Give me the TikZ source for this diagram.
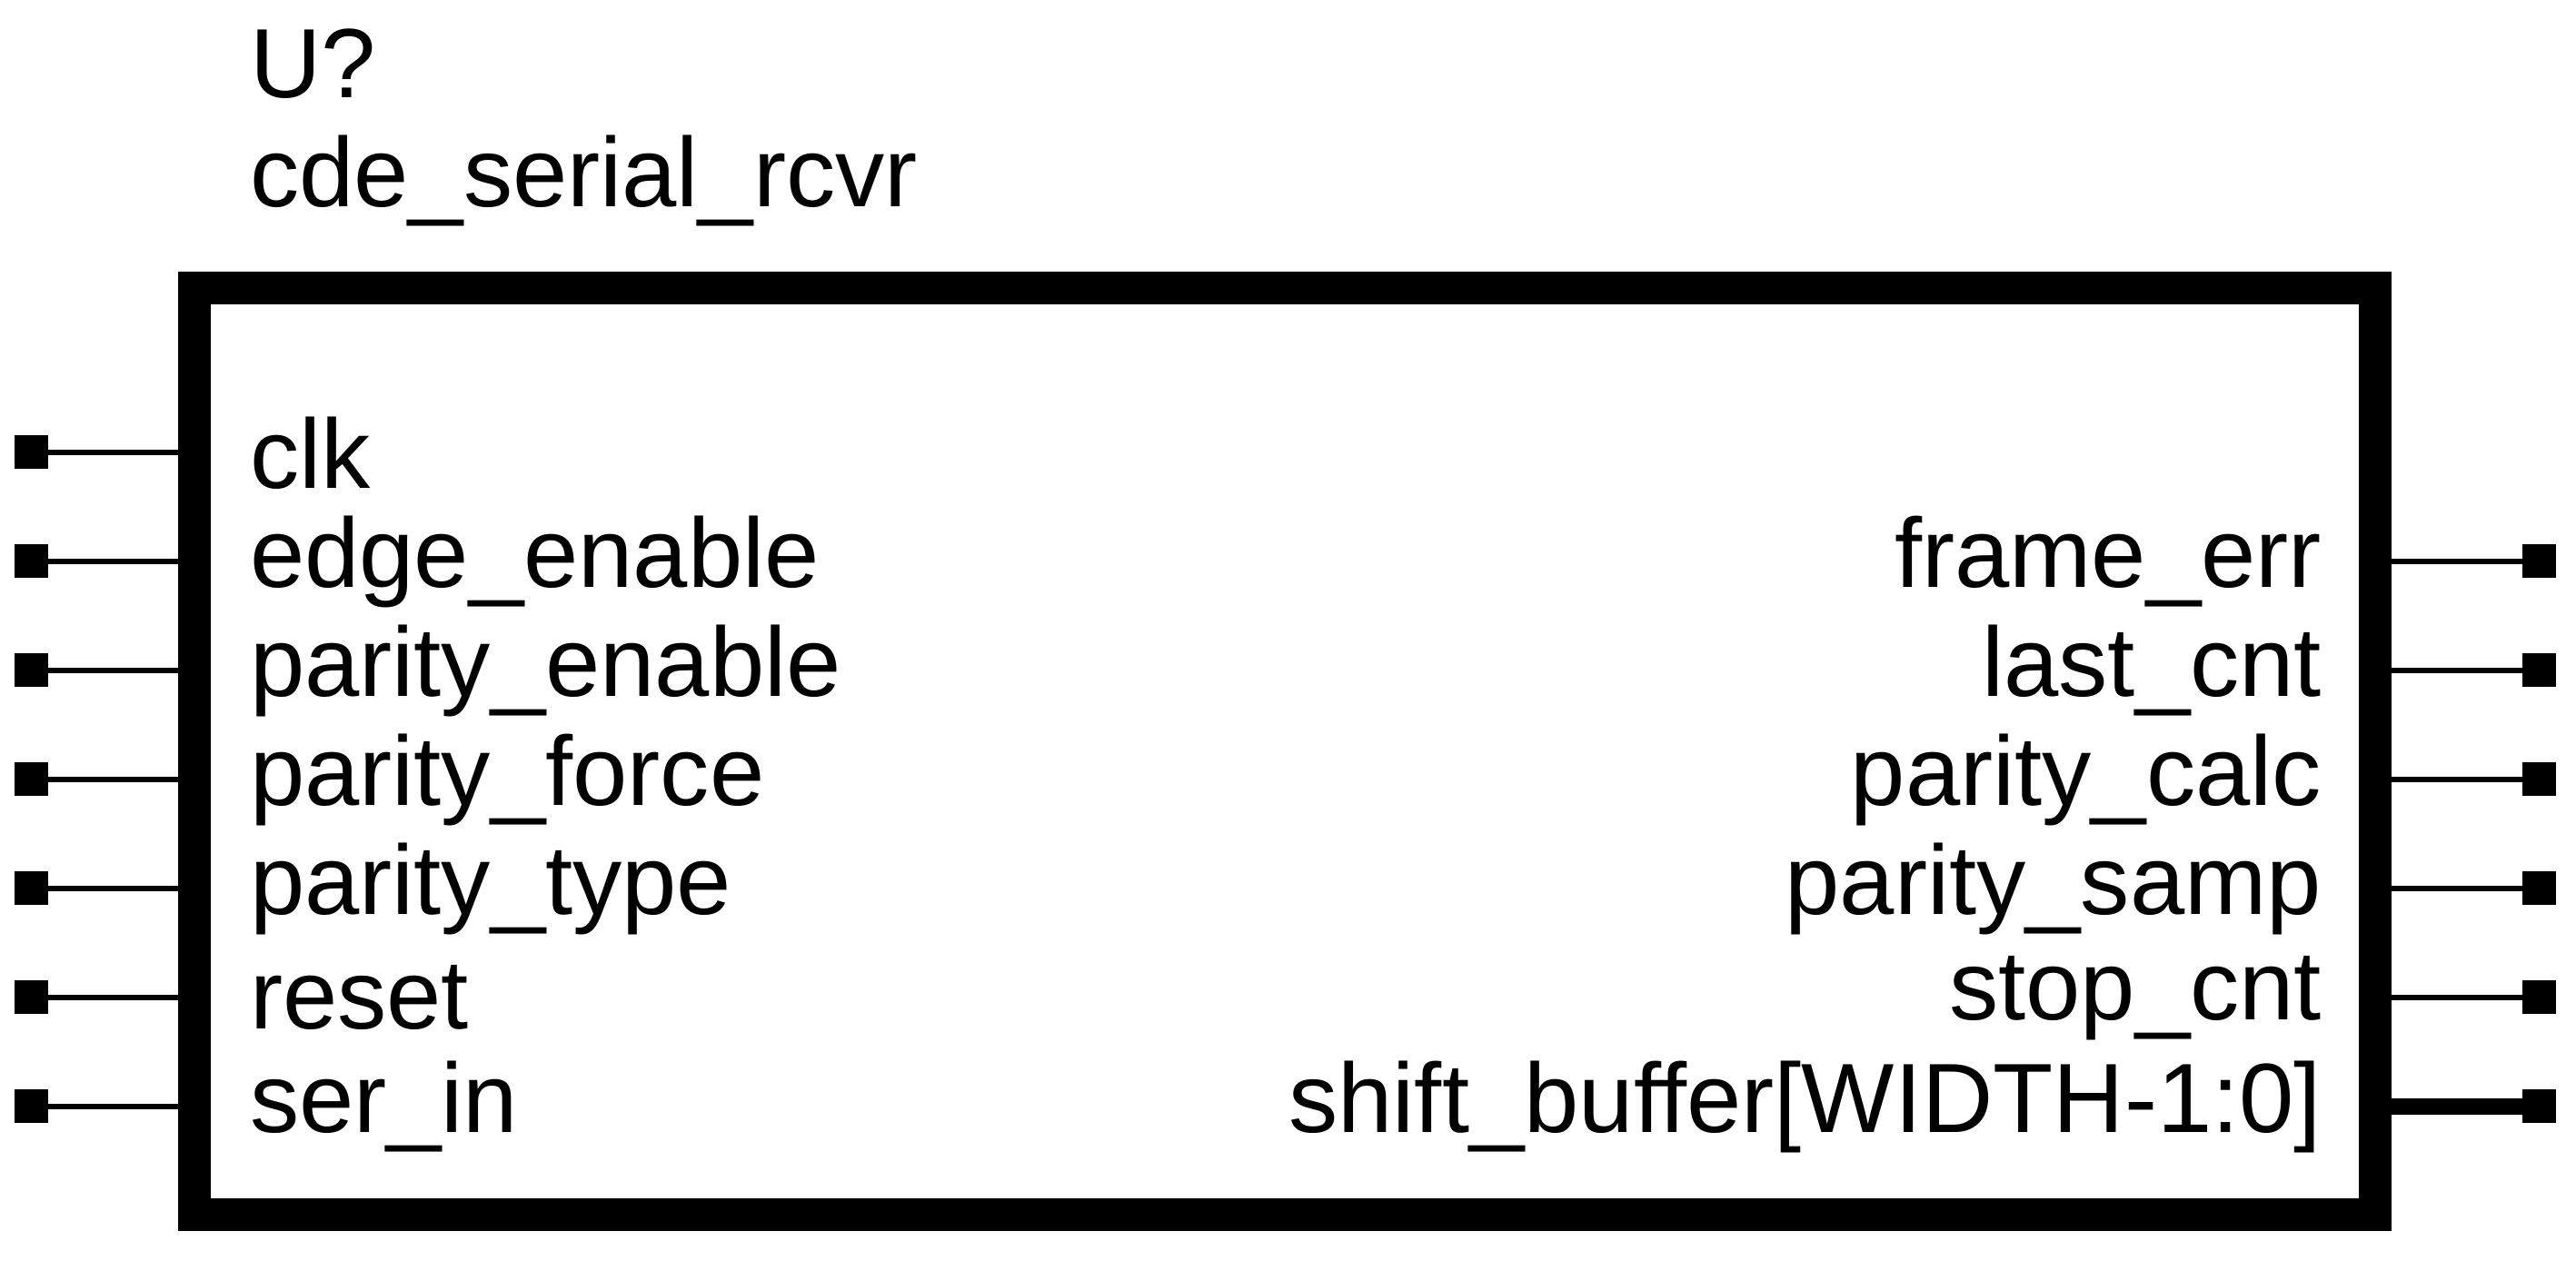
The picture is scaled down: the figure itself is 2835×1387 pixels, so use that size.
\documentclass[tikz,border=0pt]{standalone}
\usepackage{fontspec}
\setmainfont{Liberation Sans}
\tikzset{
  x=1pt,y=-1pt,
  lbl/.style={font=\fontsize{108.4}{108.4}\selectfont,inner sep=0pt,outer sep=0pt,text=black},
  lleft/.style={lbl,anchor=base west},
  lright/.style={lbl,anchor=base east},
  pin/.style={fill=black,draw=none,minimum size=37pt,inner sep=0pt,outer sep=0pt},
  wire/.style={line width=6pt,draw=black},
  bus/.style={line width=18pt,draw=black},
  block/.style={draw=black,line width=36pt,fill=white,minimum width=2400pt,minimum height=1020pt,inner sep=0pt,outer sep=0pt}
}
\begin{document}
\begin{tikzpicture}
\useasboundingbox (0,0) rectangle (2835,1387);
\fill[white] (0,0) rectangle (2835,1387);
\node[block] (box) at (1414,827) {};
\node[lleft] (ref) at (275,107.5) {U?};
\node[lleft] (name) at (275,227.5) {cde\_serial\_rcvr};
\foreach \n/\y/\b/\t in {1/497.5/537/clk,2/617.5/646/edge\_enable,3/737.5/766/parity\_enable,4/857.5/886/parity\_force,5/977.5/1006/parity\_type,6/1097.5/1132.5/reset,7/1217.5/1246/ser\_in}{
  \node[pin] (pl\n) at (34.5,\y) {};
  \draw[wire] (pl\n) -- (pl\n -| box.west);
  \node[lleft] (tl\n) at (275,\b) {\t};
}
\foreach \n/\y/\b/\t in {2/617.5/646/frame\_err,3/737.5/766/last\_cnt,4/857.5/886/parity\_calc,5/977.5/1006/parity\_samp,6/1097.5/1122/stop\_cnt}{
  \node[pin] (pr\n) at (2794.5,\y) {};
  \draw[wire] (pr\n) -- (pr\n -| box.east);
  \node[lright] (tr\n) at (2555,\b) {\t};
}
\node[pin] (pr7) at (2794.5,1217.5) {};
\draw[bus] (pr7) -- (pr7 -| box.east);
\node[lright] (tr7) at (2555,1246) {shift\_buffer[WIDTH-1:0]};
\end{tikzpicture}
\end{document}
